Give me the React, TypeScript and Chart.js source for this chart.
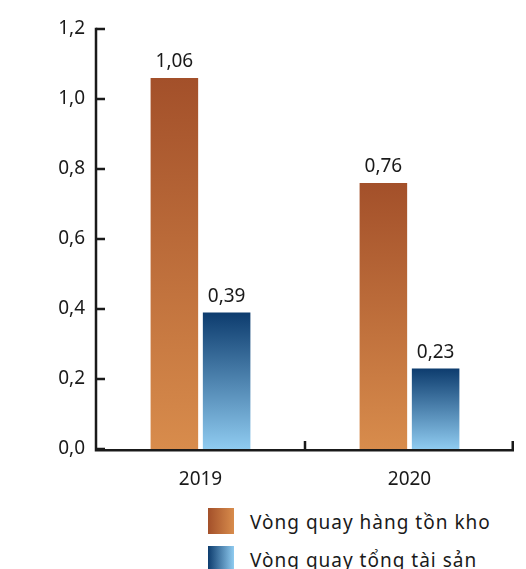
import React, { useEffect, useRef } from "react";
import { Chart, registerables } from "chart.js";

Chart.register(...registerables);

const categories = ["2019", "2020"];
const inventoryTurnover = [1.06, 0.76];
const assetTurnover = [0.39, 0.23];
const seriesNames = ["Vòng quay hàng tồn kho", "Vòng quay tổng tài sản"];
const orangeStops = ["#A3502A", "#D88C4C"];
const blueStops = ["#0D3C6E", "#8FCBF0"];

const FONT = "'Noto Sans', sans-serif";
const fmt = (v: number, d: number) => v.toFixed(d).replace(".", ",");

function gradientFor(stops: string[]) {
  return (context: any) => {
    const chart = context.chart;
    const { chartArea, scales } = chart;
    if (!chartArea || context.type !== "data" || !scales.y) return stops[0];
    const top = scales.y.getPixelForValue(context.raw);
    const bottom = scales.y.getPixelForValue(0);
    const g = chart.ctx.createLinearGradient(0, top, 0, bottom);
    g.addColorStop(0, stops[0]);
    g.addColorStop(1, stops[1]);
    return g;
  };
}

const axesPlugin = {
  id: "customAxes",
  afterDraw(chart: any) {
    const { ctx, chartArea, scales } = chart;
    const y = scales.y;
    const x = scales.x;
    ctx.save();
    ctx.strokeStyle = "#1a1a1a";
    ctx.lineWidth = 2.5;
    ctx.lineCap = "butt";
    ctx.beginPath();
    ctx.moveTo(chartArea.left, y.getPixelForValue(1.2) - 1.25);
    ctx.lineTo(chartArea.left, chartArea.bottom + 1.25);
    ctx.lineTo(chartArea.right, chartArea.bottom + 1.25);
    ctx.stroke();
    ctx.beginPath();
    y.ticks.forEach((t: any) => {
      const py = y.getPixelForValue(t.value);
      ctx.moveTo(chartArea.left, py);
      ctx.lineTo(chartArea.left + 9, py);
    });
    const n = categories.length;
    for (let i = 1; i <= n; i++) {
      const px = i < n ? (x.getPixelForValue(i - 1) + x.getPixelForValue(i)) / 2 : chartArea.right - 1.25;
      ctx.moveTo(px, chartArea.bottom + 1.25);
      ctx.lineTo(px, chartArea.bottom - 8);
    }
    ctx.stroke();

    ctx.fillStyle = "#1a1a1a";
    ctx.font = `19px ${FONT}`;
    ctx.textAlign = "center";
    ctx.textBaseline = "alphabetic";
    chart.data.datasets.forEach((ds: any, di: number) => {
      const meta = chart.getDatasetMeta(di);
      meta.data.forEach((bar: any, i: number) => {
        ctx.fillText(fmt(ds.data[i], 2), bar.x, bar.y - 11);
      });
    });
    ctx.restore();
  },
};

export default function App() {
  const ref = useRef<HTMLCanvasElement>(null);
  useEffect(() => {
    if (!ref.current) return;
    const chart = new Chart(ref.current, {
      type: "bar",
      data: {
        labels: categories,
        datasets: [
          { label: seriesNames[0], data: inventoryTurnover, backgroundColor: gradientFor(orangeStops), borderWidth: 0 },
          { label: seriesNames[1], data: assetTurnover, backgroundColor: gradientFor(blueStops), borderWidth: 0 },
        ],
      },
      plugins: [axesPlugin],
      options: {
        responsive: false,
        animation: false,
        events: [],
        devicePixelRatio: 1,
        layout: { padding: { top: 29, right: 12, left: 0, bottom: 0 } },
        datasets: { bar: { categoryPercentage: 0.5, barPercentage: 0.91 } },
        plugins: { legend: { display: false }, tooltip: { enabled: false }, title: { display: false } },
        scales: {
          x: {
            grid: { display: false, drawTicks: false },
            border: { display: false },
            ticks: { color: "#1a1a1a", font: { family: FONT, size: 19 }, padding: 19 },
            afterFit: (s: any) => { s.height = 51; },
          },
          y: {
            min: 0,
            max: 1.2,
            grid: { display: false, drawTicks: false },
            border: { display: false },
            ticks: {
              stepSize: 0.2,
              color: "#1a1a1a",
              font: { family: FONT, size: 19 },
              padding: 11,
              callback: (v: any) => fmt(Number(v), 1),
            },
            afterFit: (s: any) => { s.width = 96; },
          },
        },
      },
    });
    return () => chart.destroy();
  }, []);

  const swatch = (stops: string[]) => ({
    position: "absolute" as const,
    left: 208,
    width: 26,
    height: 26,
    background: `linear-gradient(to right, ${stops[0]}, ${stops[1]})`,
  });
  const label = {
    position: "absolute" as const,
    left: 250,
    fontFamily: FONT,
    fontSize: 19,
    letterSpacing: "1px",
    color: "#1a1a1a",
    lineHeight: "26px",
    whiteSpace: "nowrap" as const,
  };

  return (
    <div style={{ position: "absolute", left: 0, top: 0, width: 526, height: 569, background: "#fff", overflow: "hidden" }}>
      <canvas ref={ref} width={526} height={500} style={{ display: "block" }} />
      <div style={{ ...swatch(orangeStops), top: 508 }} />
      <div style={{ ...label, top: 509 }}>{seriesNames[0]}</div>
      <div style={{ ...swatch(blueStops), top: 546 }} />
      <div style={{ ...label, top: 547 }}>{seriesNames[1]}</div>
    </div>
  );
}
